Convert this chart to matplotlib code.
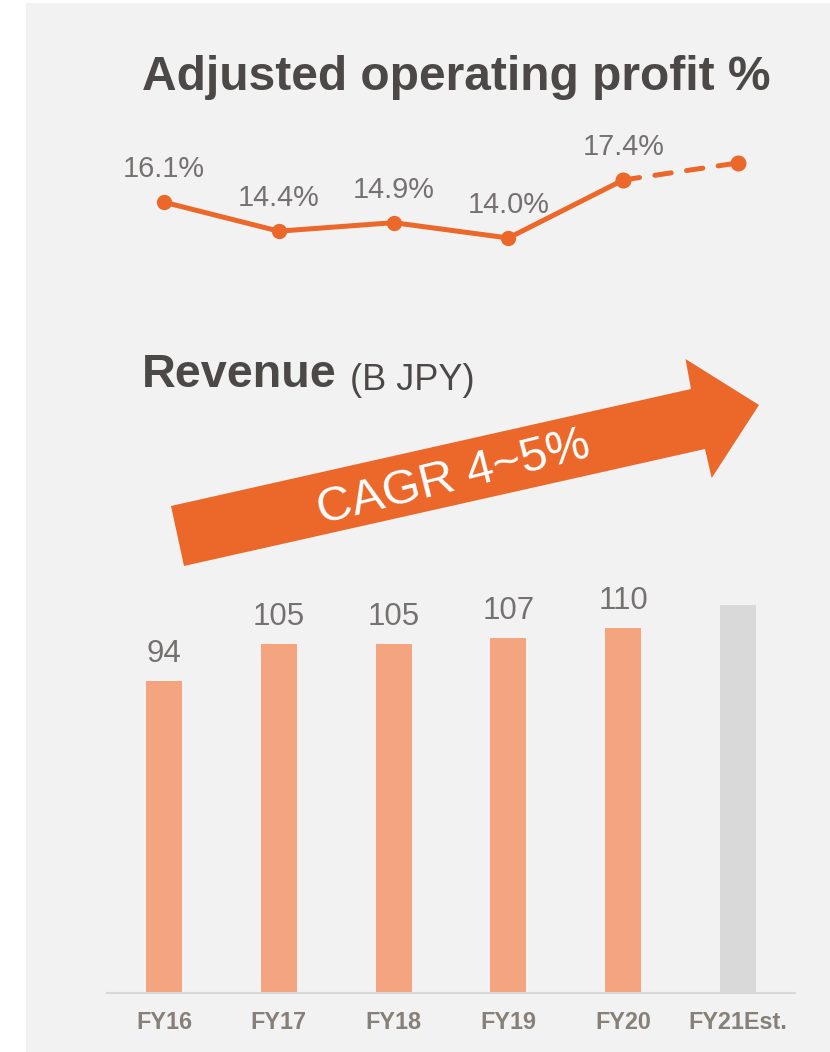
import matplotlib
matplotlib.use("Agg")
import matplotlib.pyplot as plt
from matplotlib.patches import Rectangle, Polygon

plt.rcParams['font.family'] = ['Liberation Sans', 'DejaVu Sans']

# ---- data ----
categories = ["FY16", "FY17", "FY18", "FY19", "FY20", "FY21Est."]
revenue = [94, 105, 105, 107, 110, 117]
revenue_labels = ["94", "105", "105", "107", "110", ""]
margin = [16.1, 14.4, 14.9, 14.0, 17.4, 18.4]
margin_labels = ["16.1%", "14.4%", "14.9%", "14.0%", "17.4%", ""]

W, H = 830, 1052
fig = plt.figure(figsize=(W / 100, H / 100), dpi=100, facecolor="white")

def fx(x):
    return x / W

def fy(y):
    return 1 - y / H

BG = "#f2f2f2"
ORANGE = "#eb682a"
BAR = "#f4a47f"
EST = "#d9d9d9"
LBL = "#767171"
TITLE = "#4d4848"
TICK = "#878079"

fig.patches.append(Rectangle((fx(26), 0), 1 - fx(26), fy(3), transform=fig.transFigure,
                             facecolor=BG, edgecolor="none", zorder=-10))

# ---- bar axes ----
step = 114.8
x0 = 164 - 0.5 * step
ax = fig.add_axes([fx(x0), fy(993), fx(6 * step), (125 * 3.32) / H])
ax.set_facecolor("none")
ax.set_xlim(-0.5, 5.5)
ax.set_ylim(0, 125)
xs = list(range(len(categories)))
colors = [BAR] * 5 + [EST]
ax.bar(xs, revenue, width=0.315, color=colors, zorder=2)
for x, v, t in zip(xs, revenue, revenue_labels):
    if t:
        ax.annotate(t, (x, v), xytext=(0, 19.5), textcoords="offset points",
                    ha="center", va="center", fontsize=22.5, color=LBL)
for s in ["top", "right", "left"]:
    ax.spines[s].set_visible(False)
ax.spines["bottom"].set_color("#d9d9d9")
ax.spines["bottom"].set_linewidth(1.5)
ax.set_yticks([])
ax.set_xticks(xs)
ax.set_xticklabels(categories, fontsize=16.8, fontweight="bold", color=TICK)
ax.tick_params(axis="x", length=0, pad=13)

# ---- line axes ----
ly_top = 238 - (20 - 14) * 17.06
ly_bot = 238 - (12 - 14) * 17.06
lax = fig.add_axes([fx(x0), fy(ly_bot), fx(6 * step), (ly_bot - ly_top) / H])
lax.set_facecolor("none")
lax.set_xlim(-0.5, 5.5)
lax.set_ylim(12, 20)
lax.axis("off")
lax.plot(xs[:5], margin[:5], color=ORANGE, lw=3.6, marker="o", ms=10,
         solid_capstyle="round", zorder=3)
lax.plot(xs[4:], margin[4:], color=ORANGE, lw=3.6, ls=(0, (3.3, 3.1)),
         dash_capstyle="round", marker="o", ms=10.5, zorder=3)
for x, v, t in zip(xs, margin, margin_labels):
    if t:
        lax.annotate(t, (x, v), xytext=(0, 23.8), textcoords="offset points",
                     ha="center", va="center", fontsize=20.8, color=LBL)

# ---- titles ----
fig.text(fx(142), fy(78), "Adjusted operating profit %", fontsize=34.5,
         fontweight="bold", color=TITLE, ha="left", va="center")
fig.text(fx(142), fy(375), "Revenue", fontsize=33.7, fontweight="bold",
         color=TITLE, ha="left", va="center")
fig.text(fx(350), fy(381), "(B JPY)", fontsize=26, color=TITLE, ha="left", va="center")

# ---- growth arrow ----
pts = [(184, 566), (171, 506), (691, 389), (685.5, 359), (759, 405), (711.7, 478), (705, 449)]
fig.patches.append(Polygon([(fx(a), fy(b)) for a, b in pts], closed=True,
                           transform=fig.transFigure, facecolor=ORANGE,
                           edgecolor="none", zorder=1))
fig.text(fx(454), fy(478), "CAGR 4~5%", fontsize=35, color="white", rotation=14,
         rotation_mode="anchor", ha="center", va="center", zorder=5)

fig.savefig("out.png", dpi=100, facecolor="white")
